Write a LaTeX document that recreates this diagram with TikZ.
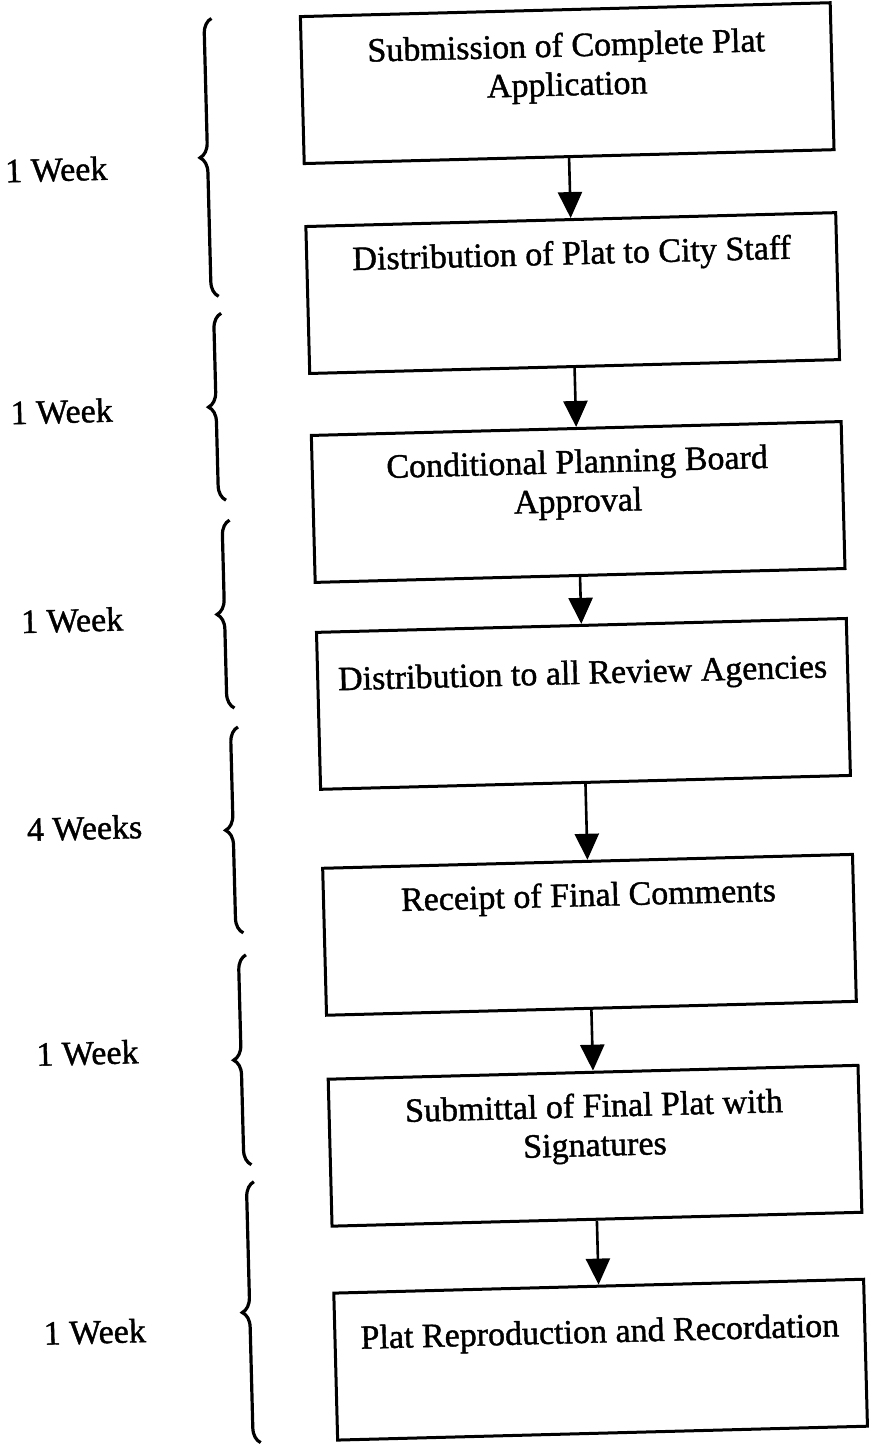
\documentclass[tikz,border=0pt]{standalone}
\usepackage{fontspec}
\setmainfont{Liberation Serif}[FakeBold=1.2]
\usetikzlibrary{arrows.meta,decorations.pathreplacing}

\tikzset{
  stage/.style={draw, line width=1.5pt, minimum width=265pt, minimum height=73.5pt, inner sep=0pt},
  stagetext/.style={anchor=north, align=center, inner sep=0pt, font=\fontsize{17}{19.5}\selectfont},
  flow/.style={line width=1.3pt, -{Triangle[width=12pt,length=13pt]}},
  weekbrace/.style={decorate, decoration={brace, amplitude=7.5pt}, line width=1.6pt},
  weeks/.style={inner sep=0pt, font=\fontsize{17}{19.5}\selectfont}
}

\begin{document}
\begin{tikzpicture}[x=0.5pt, y=-0.5pt]
\useasboundingbox (0,0) rectangle (889,1445);

\begin{scope}[rotate around={1.5:(580,725)}, transform shape]
    % plat approval steps
    \node[stage, label={[stagetext, yshift=-12pt]north:Submission of Complete Plat\\Application}] (s1) at (584,83) {};
    \node[stage, label={[stagetext, yshift=-11pt]north:Distribution of Plat to City Staff}] (s2) at (584,293) {};
    \node[stage, label={[stagetext, yshift=-11pt]north:Conditional Planning Board\\Approval}] (s3) at (584,502) {};
    \node[stage, minimum height=78.5pt, label={[stagetext, yshift=-18pt]north:Distribution to all Review Agencies}] (s4) at (584,704) {};
    \node[stage, label={[stagetext, yshift=-11pt]north:Receipt of Final Comments}] (s5) at (584,935) {};
    \node[stage, label={[stagetext, yshift=-11pt]north:Submittal of Final Plat with\\Signatures}] (s6) at (584,1146) {};
    \node[stage, label={[stagetext, yshift=-17pt]north:Plat Reproduction and Recordation}] (s7) at (584,1360) {};

    \draw[flow] (s1) -- (s2);
    \draw[flow] (s2) -- (s3);
    \draw[flow] (s3) -- (s4);
    \draw[flow] (s4) -- (s5);
    \draw[flow] (s5) -- (s6);
    \draw[flow] (s6) -- (s7);

    % time spans on the left
    \draw[weekbrace] (230,287) -- (230,9);
    \draw[weekbrace] (232,491) -- (232,304);
    \draw[weekbrace] (235,699) -- (235,511);
    \draw[weekbrace] (238,924) -- (238,718);
    \draw[weekbrace] (240,1156) -- (240,946);
    \draw[weekbrace] (242,1434) -- (242,1173);

    \node[weeks] (w1) at (71,156) {1 Week};
    \node[weeks] (w2) at (70,398) {1 Week};
    \node[weeks] (w3) at (75,607) {1 Week};
    \node[weeks] (w4) at (82,815) {4 Weeks};
    \node[weeks] (w5) at (79,1040) {1 Week};
    \node[weeks] (w6) at (79,1319) {1 Week};
\end{scope}
\end{tikzpicture}
\end{document}
